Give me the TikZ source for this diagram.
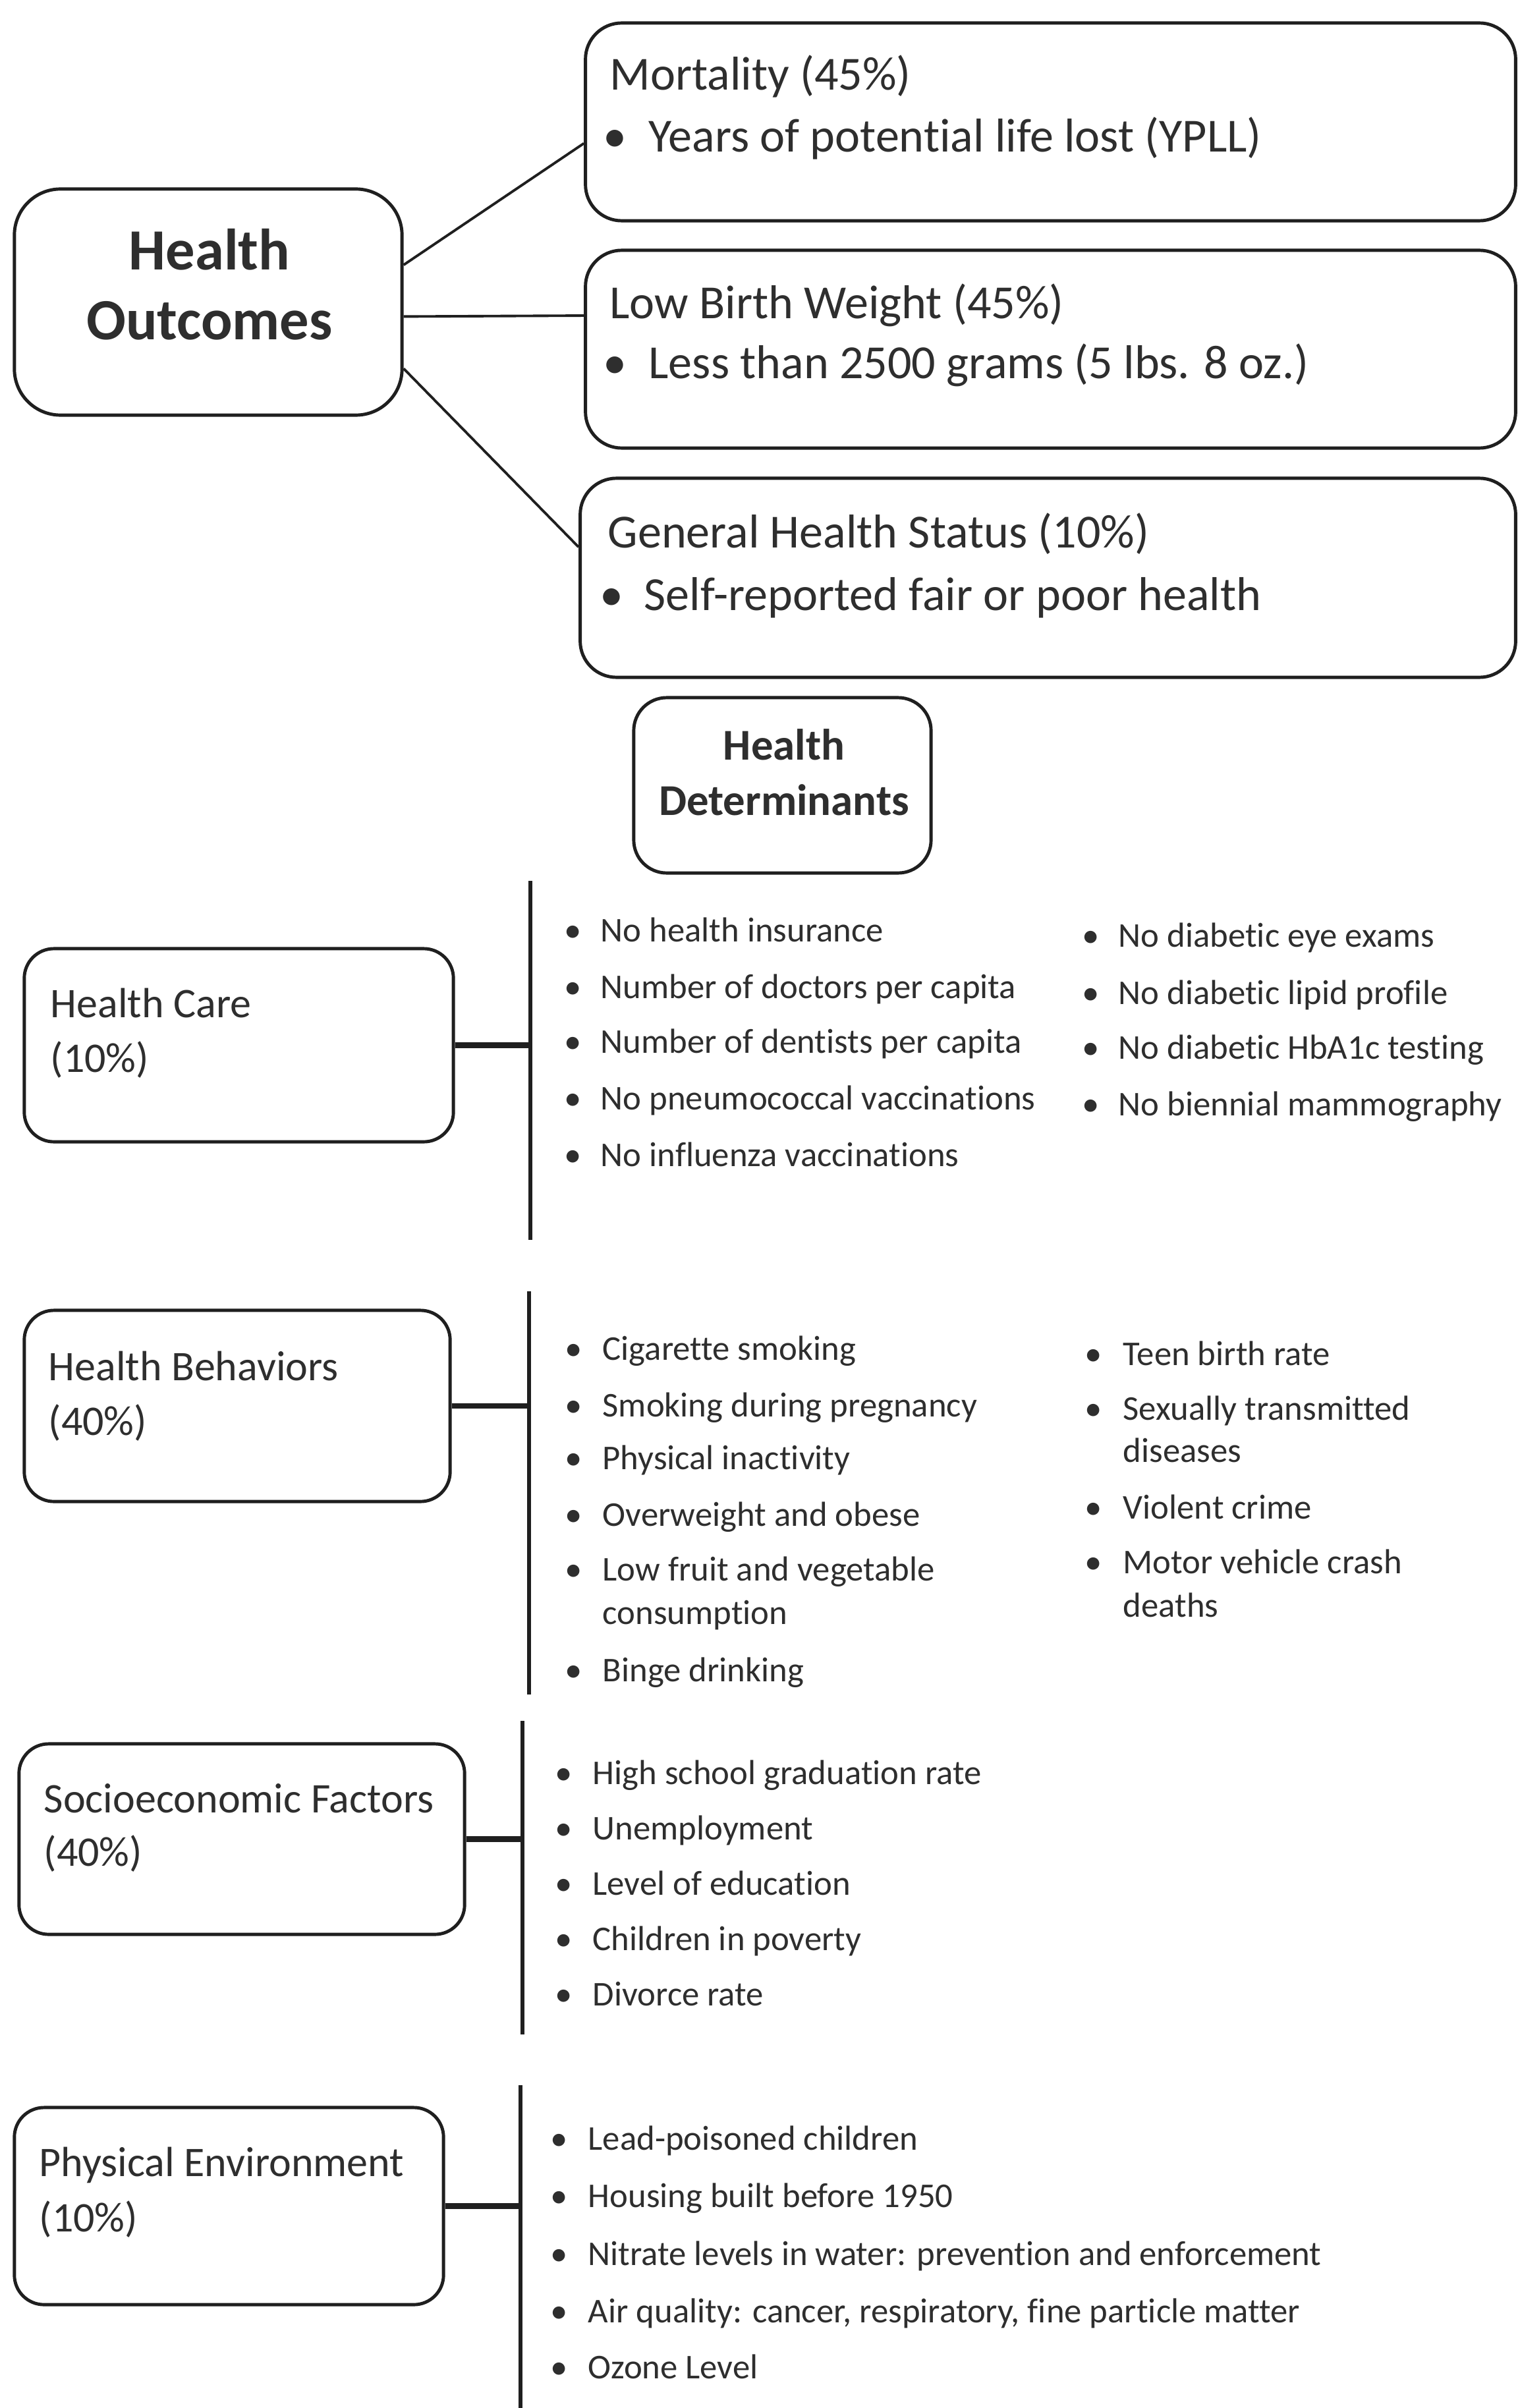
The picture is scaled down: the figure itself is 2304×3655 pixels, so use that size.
\documentclass[tikz,border=0pt]{standalone}
\usepackage{fontspec}
\setmainfont[Ligatures=NoCommon]{Carlito}
\usetikzlibrary{calc}
\colorlet{ink}{black!82}
\colorlet{linec}{black!88}
\newcommand\bitem[5]{%
  \node[bul] (#1b) at (#2,#4) {•};
  \node[itm] (#1) at (#3,#4) {#5};}
\begin{document}
\begin{tikzpicture}[x=0.01cm,y=-0.01cm,
  box/.style={draw=linec, line width=1.4pt, inner sep=0pt},
  bigbox/.style={box, rounded corners=0.7cm},
  topbox/.style={box, rounded corners=0.55cm, minimum width=14.11cm, minimum height=3.0cm},
  catbox/.style={box, rounded corners=0.45cm},
  conn/.style={draw=linec, line width=1.1pt},
  vline/.style={draw=linec, line width=1.6pt},
  hconn/.style={draw=linec, line width=2.4pt},
  headb/.style={text=ink, anchor=base, inner sep=0pt, font=\bfseries\fontsize{25.2}{30}\selectfont},
  headd/.style={text=ink, anchor=base, inner sep=0pt, font=\bfseries\fontsize{19}{23}\selectfont},
  ttl/.style={text=ink, anchor=base west, inner sep=0pt, font=\fontsize{20.5}{24}\selectfont},
  tbul/.style={text=ink, anchor=base, inner sep=0pt, font=\fontsize{20.5}{24}\selectfont},
  lab/.style={text=ink, anchor=base west, inner sep=0pt, font=\fontsize{18.2}{22}\selectfont},
  itm/.style={text=ink, anchor=base west, inner sep=0pt, font=\fontsize{15}{18}\selectfont},
  bul/.style={text=ink, anchor=base, inner sep=0pt, font=\fontsize{15}{18}\selectfont}]
\useasboundingbox[fill=white] (0,0) rectangle (2304,3655);

% ---------------- Health Outcomes ----------------
\node[bigbox, minimum width=5.88cm, minimum height=3.43cm] (ho) at (316,458.5) {};
\node[headb] (ho1) at (318,410) {Health};
\node[headb] (ho2) at (318,516) {Outcomes};

\node[topbox] (mort) at (1594.5,185) {};
\node[ttl] (mortt) at (925,137) {Mortality (45\%)};
\node[tbul] (mortb) at (933,231) {•};
\node[ttl] (morti) at (984,231) {Years of potential life lost (YPLL)};

\node[topbox] (lbw) at (1594.5,530) {};
\node[ttl] (lbwt) at (925,484) {Low Birth Weight (45\%)};
\node[tbul] (lbwb) at (933,575) {•};
\node[ttl] (lbwi) at (984,575) {Less than 2500 grams (5 lbs. 8 oz.)};

\node[topbox, minimum width=14.19cm, minimum height=3.02cm] (ghs) at (1590.5,877) {};
\node[ttl] (ghst) at (922,831) {General Health Status (10\%)};
\node[tbul] (ghsb) at (928,926) {•};
\node[ttl] (ghsi) at (977,926) {Self-reported fair or poor health};

\draw[conn] ($(ho.north east)!0.338!(ho.south east)$) -- ($(mort.north west)!0.607!(mort.south west)$);
\draw[conn] ($(ho.north east)!0.563!(ho.south east)$) -- ($(lbw.north west)!0.333!(lbw.south west)$);
\draw[conn] ($(ho.north east)!0.79!(ho.south east)$) -- ($(ghs.north west)!0.348!(ghs.south west)$);

% ---------------- Health Determinants ----------------
\node[box, rounded corners=0.5cm, minimum width=4.51cm, minimum height=2.66cm] (hd) at (1187.5,1192) {};
\node[headd] (hd1) at (1190,1153) {Health};
\node[headd] (hd2) at (1190,1237) {Determinants};

% Health Care
\node[catbox, minimum width=6.51cm, minimum height=2.93cm] (hc) at (362.5,1586.5) {};
\node[lab] (hcl1) at (76,1544) {Health Care};
\node[lab] (hcl2) at (76,1627) {(10\%)};
\coordinate (hct) at (805,1337);
\coordinate (hcbt) at (805,1882);
\draw[vline] (hct) -- (hcbt);
\draw[hconn] (hc.east) -- (hc.east -| hct);
\bitem{hc1}{870}{911}{1429}{No health insurance}
\bitem{hc2}{870}{911}{1515}{Number of doctors per capita}
\bitem{hc3}{870}{911}{1598}{Number of dentists per capita}
\bitem{hc4}{870}{911}{1684}{No pneumococcal vaccinations}
\bitem{hc5}{870}{911}{1770}{No influenza vaccinations}
\bitem{hc6}{1656}{1697}{1437}{No diabetic eye exams}
\bitem{hc7}{1656}{1697}{1524}{No diabetic lipid profile}
\bitem{hc8}{1656}{1697}{1607}{No diabetic HbA1c testing}
\bitem{hc9}{1656}{1697}{1693}{No biennial mammography}

% Health Behaviors
\node[catbox, minimum width=6.46cm, minimum height=2.90cm] (hb) at (360,2134) {};
\node[lab] (hbl1) at (73,2095) {Health Behaviors};
\node[lab] (hbl2) at (73,2178) {(40\%)};
\coordinate (hbt) at (803,1960);
\coordinate (hbbt) at (803,2572);
\draw[vline] (hbt) -- (hbbt);
\draw[hconn] (hb.east) -- (hb.east -| hbt);
\bitem{hb1}{871}{914}{2064}{Cigarette smoking}
\bitem{hb2}{871}{914}{2150}{Smoking during pregnancy}
\bitem{hb3}{871}{914}{2230}{Physical inactivity}
\bitem{hb4}{871}{914}{2316}{Overweight and obese}
\bitem{hb5}{871}{914}{2399}{Low fruit and vegetable}
\node[itm] (hb5c) at (914,2465) {consumption};
\bitem{hb6}{871}{914}{2552}{Binge drinking}
\bitem{hb7}{1660}{1704}{2072}{Teen birth rate}
\bitem{hb8}{1660}{1704}{2155}{Sexually transmitted}
\node[itm] (hb8c) at (1704,2219) {diseases};
\bitem{hb9}{1660}{1704}{2305}{Violent crime}
\bitem{hb10}{1660}{1704}{2388}{Motor vehicle crash}
\node[itm] (hb10c) at (1704,2454) {deaths};

% Socioeconomic Factors
\node[catbox, minimum width=6.76cm, minimum height=2.89cm] (se) at (367,2791.5) {};
\node[lab] (sel1) at (66,2751) {Socioeconomic Factors};
\node[lab] (sel2) at (66,2832) {(40\%)};
\coordinate (set) at (793,2612);
\coordinate (sebt) at (793,3088);
\draw[vline] (set) -- (sebt);
\draw[hconn] (se.east) -- (se.east -| set);
\bitem{se1}{856}{899}{2708}{High school graduation rate}
\bitem{se2}{856}{899}{2792}{Unemployment}
\bitem{se3}{856}{899}{2876}{Level of education}
\bitem{se4}{856}{899}{2960}{Children in poverty}
\bitem{se5}{856}{899}{3044}{Divorce rate}

% Physical Environment
\node[catbox, minimum width=6.51cm, minimum height=2.99cm] (pe) at (347.5,3348.5) {};
\node[lab] (pel1) at (59,3303) {Physical Environment};
\node[lab] (pel2) at (59,3387) {(10\%)};
\coordinate (pet) at (790,3165);
\coordinate (pebt) at (790,3655);
\draw[vline] (pet) -- (pebt);
\draw[hconn] (pe.east) -- (pe.east -| pet);
\bitem{pe1}{849}{892}{3263}{Lead-poisoned children}
\bitem{pe2}{849}{892}{3350}{Housing built before 1950}
\bitem{pe3}{849}{892}{3438}{Nitrate levels in water: prevention and enforcement}
\bitem{pe4}{849}{892}{3525}{Air quality: cancer, respiratory, fine particle matter}
\bitem{pe5}{849}{892}{3610}{Ozone Level}
\end{tikzpicture}
\end{document}
